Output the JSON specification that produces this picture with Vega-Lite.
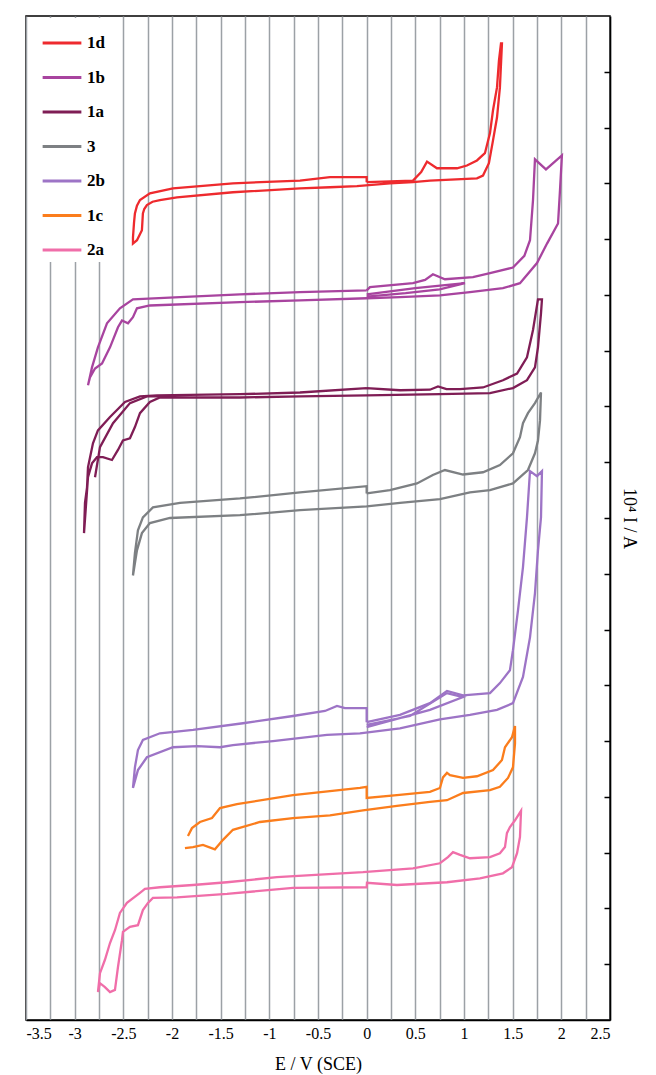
{
"$schema": "https://vega.github.io/schema/vega-lite/v6.json",
"width": 584, "height": 1004,
"padding": {"left": 26, "top": 16, "right": 2, "bottom": 2},
"autosize": {"type": "pad"},
"background": "white",
"config": {"view": {"stroke": "black", "strokeWidth": 1.5}, "font": "Liberation Serif",
  "axis": {"labelFont": "Liberation Serif", "titleFont": "Liberation Serif"},
  "legend": {"labelFont": "Liberation Serif"}},
"data": {"values": [
{"s":"1d","p":"a","x":0.0,"y":15.02},{"s":"1d","p":"a","x":0.476,"y":15.05},{"s":"1d","p":"a","x":0.56,"y":15.2},{"s":"1d","p":"a","x":0.62,"y":15.39},{"s":"1d","p":"a","x":0.722,"y":15.27},{"s":"1d","p":"a","x":0.928,"y":15.27},{"s":"1d","p":"a","x":1.03,"y":15.32},{"s":"1d","p":"a","x":1.133,"y":15.41},{"s":"1d","p":"a","x":1.215,"y":15.54},{"s":"1d","p":"a","x":1.267,"y":15.9},{"s":"1d","p":"a","x":1.298,"y":16.31},{"s":"1d","p":"a","x":1.339,"y":16.72},{"s":"1d","p":"a","x":1.359,"y":17.2},{"s":"1d","p":"a","x":1.38,"y":17.51},{"s":"1d","p":"a","x":1.39,"y":17.51},{"s":"1d","p":"a","x":1.369,"y":16.72},{"s":"1d","p":"a","x":1.339,"y":16.18},{"s":"1d","p":"a","x":1.298,"y":15.77},{"s":"1d","p":"a","x":1.256,"y":15.36},{"s":"1d","p":"a","x":1.195,"y":15.14},{"s":"1d","p":"a","x":1.133,"y":15.09},{"s":"1d","p":"a","x":0.65,"y":15.05},{"s":"1d","p":"a","x":0.476,"y":15.02},{"s":"1d","p":"a","x":0.239,"y":15.0},{"s":"1d","p":"a","x":-0.1,"y":14.95},{"s":"1d","p":"a","x":-0.377,"y":14.93},{"s":"1d","p":"a","x":-0.685,"y":14.91},{"s":"1d","p":"a","x":-1.374,"y":14.84},{"s":"1d","p":"a","x":-1.949,"y":14.75},{"s":"1d","p":"a","x":-2.124,"y":14.7},{"s":"1d","p":"a","x":-2.2,"y":14.67},{"s":"1d","p":"a","x":-2.258,"y":14.61},{"s":"1d","p":"a","x":-2.285,"y":14.54},{"s":"1d","p":"a","x":-2.299,"y":14.46},{"s":"1d","p":"a","x":-2.309,"y":14.16},{"s":"1d","p":"a","x":-2.36,"y":13.98},{"s":"1d","p":"a","x":-2.401,"y":13.92},{"s":"1d","p":"a","x":-2.401,"y":14.03},{"s":"1d","p":"a","x":-2.39,"y":14.3},{"s":"1d","p":"a","x":-2.381,"y":14.46},{"s":"1d","p":"a","x":-2.36,"y":14.6},{"s":"1d","p":"a","x":-2.329,"y":14.7},{"s":"1d","p":"a","x":-2.227,"y":14.82},{"s":"1d","p":"a","x":-1.99,"y":14.91},{"s":"1d","p":"a","x":-1.374,"y":15.0},{"s":"1d","p":"a","x":-0.685,"y":15.05},{"s":"1d","p":"a","x":-0.377,"y":15.11},{"s":"1d","p":"a","x":0.0,"y":15.11},{"s":"1d","p":"a","x":0.0,"y":15.02},

{"s":"1b","p":"a","x":0.0,"y":13.08},{"s":"1b","p":"a","x":0.034,"y":13.14},{"s":"1b","p":"a","x":0.476,"y":13.21},{"s":"1b","p":"a","x":0.6,"y":13.27},{"s":"1b","p":"a","x":0.681,"y":13.37},{"s":"1b","p":"a","x":0.804,"y":13.28},{"s":"1b","p":"a","x":1.092,"y":13.32},{"s":"1b","p":"a","x":1.267,"y":13.39},{"s":"1b","p":"a","x":1.503,"y":13.49},{"s":"1b","p":"a","x":1.62,"y":13.7},{"s":"1b","p":"a","x":1.678,"y":13.98},{"s":"1b","p":"a","x":1.709,"y":14.7},{"s":"1b","p":"a","x":1.729,"y":15.43},{"s":"1b","p":"a","x":1.842,"y":15.25},{"s":"1b","p":"a","x":2.006,"y":15.5},{"s":"1b","p":"a","x":1.986,"y":14.87},{"s":"1b","p":"a","x":1.966,"y":14.28},{"s":"1b","p":"a","x":1.853,"y":13.92},{"s":"1b","p":"a","x":1.75,"y":13.57},{"s":"1b","p":"a","x":1.575,"y":13.21},{"s":"1b","p":"a","x":1.4,"y":13.12},{"s":"1b","p":"a","x":1.061,"y":13.05},{"s":"1b","p":"a","x":0.753,"y":12.99},{"s":"1b","p":"a","x":0.342,"y":12.96},{"s":"1b","p":"a","x":0.0,"y":12.94},{"s":"1b","p":"a","x":-0.685,"y":12.9},{"s":"1b","p":"a","x":-1.302,"y":12.87},{"s":"1b","p":"a","x":-2.227,"y":12.81},{"s":"1b","p":"a","x":-2.36,"y":12.76},{"s":"1b","p":"a","x":-2.401,"y":12.6},{"s":"1b","p":"a","x":-2.452,"y":12.49},{"s":"1b","p":"a","x":-2.514,"y":12.54},{"s":"1b","p":"a","x":-2.555,"y":12.42},{"s":"1b","p":"a","x":-2.637,"y":12.06},{"s":"1b","p":"a","x":-2.719,"y":11.77},{"s":"1b","p":"a","x":-2.791,"y":11.68},{"s":"1b","p":"a","x":-2.843,"y":11.52},{"s":"1b","p":"a","x":-2.863,"y":11.38},{"s":"1b","p":"a","x":-2.822,"y":11.7},{"s":"1b","p":"a","x":-2.761,"y":12.06},{"s":"1b","p":"a","x":-2.668,"y":12.49},{"s":"1b","p":"a","x":-2.535,"y":12.76},{"s":"1b","p":"a","x":-2.401,"y":12.92},{"s":"1b","p":"a","x":-1.918,"y":12.96},{"s":"1b","p":"a","x":-1.302,"y":13.01},{"s":"1b","p":"a","x":-0.685,"y":13.05},{"s":"1b","p":"a","x":0.0,"y":13.08},
{"s":"1b","p":"b","x":0.0,"y":13.01},{"s":"1b","p":"b","x":0.5,"y":13.12},{"s":"1b","p":"b","x":1.01,"y":13.21},{"s":"1b","p":"b","x":0.75,"y":13.1},{"s":"1b","p":"b","x":0.4,"y":13.03},{"s":"1b","p":"b","x":0.0,"y":12.97},

{"s":"1a","p":"a","x":0.0,"y":11.33},{"s":"1a","p":"a","x":0.342,"y":11.29},{"s":"1a","p":"a","x":0.65,"y":11.3},{"s":"1a","p":"a","x":0.733,"y":11.36},{"s":"1a","p":"a","x":0.82,"y":11.31},{"s":"1a","p":"a","x":0.959,"y":11.31},{"s":"1a","p":"a","x":1.195,"y":11.34},{"s":"1a","p":"a","x":1.4,"y":11.47},{"s":"1a","p":"a","x":1.545,"y":11.59},{"s":"1a","p":"a","x":1.647,"y":11.88},{"s":"1a","p":"a","x":1.709,"y":12.37},{"s":"1a","p":"a","x":1.76,"y":12.92},{"s":"1a","p":"a","x":1.801,"y":12.92},{"s":"1a","p":"a","x":1.791,"y":12.67},{"s":"1a","p":"a","x":1.76,"y":12.06},{"s":"1a","p":"a","x":1.729,"y":11.7},{"s":"1a","p":"a","x":1.647,"y":11.47},{"s":"1a","p":"a","x":1.503,"y":11.33},{"s":"1a","p":"a","x":1.267,"y":11.24},{"s":"1a","p":"a","x":0.753,"y":11.22},{"s":"1a","p":"a","x":0.0,"y":11.2},{"s":"1a","p":"a","x":-0.685,"y":11.18},{"s":"1a","p":"a","x":-1.302,"y":11.16},{"s":"1a","p":"a","x":-2.124,"y":11.16},{"s":"1a","p":"a","x":-2.227,"y":11.08},{"s":"1a","p":"a","x":-2.329,"y":10.88},{"s":"1a","p":"a","x":-2.381,"y":10.63},{"s":"1a","p":"a","x":-2.432,"y":10.43},{"s":"1a","p":"a","x":-2.504,"y":10.39},{"s":"1a","p":"a","x":-2.555,"y":10.22},{"s":"1a","p":"a","x":-2.617,"y":10.04},{"s":"1a","p":"a","x":-2.709,"y":10.09},{"s":"1a","p":"a","x":-2.771,"y":10.09},{"s":"1a","p":"a","x":-2.822,"y":9.98},{"s":"1a","p":"a","x":-2.863,"y":9.73},{"s":"1a","p":"a","x":-2.904,"y":8.73},{"s":"1a","p":"a","x":-2.894,"y":9.27},{"s":"1a","p":"a","x":-2.873,"y":9.55},{"s":"1a","p":"a","x":-2.863,"y":9.91},{"s":"1a","p":"a","x":-2.812,"y":10.34},{"s":"1a","p":"a","x":-2.761,"y":10.57},{"s":"1a","p":"a","x":-2.637,"y":10.81},{"s":"1a","p":"a","x":-2.483,"y":11.08},{"s":"1a","p":"a","x":-2.329,"y":11.18},{"s":"1a","p":"a","x":-2.155,"y":11.2},{"s":"1a","p":"a","x":-1.302,"y":11.22},{"s":"1a","p":"a","x":-0.685,"y":11.25},{"s":"1a","p":"a","x":0.0,"y":11.33},
{"s":"1a","p":"b","x":-2.791,"y":9.73},{"s":"1a","p":"b","x":-2.74,"y":10.27},{"s":"1a","p":"b","x":-2.606,"y":10.7},{"s":"1a","p":"b","x":-2.432,"y":11.06},{"s":"1a","p":"b","x":-2.258,"y":11.18},{"s":"1a","p":"b","x":-2.124,"y":11.18},

{"s":"3","p":"a","x":0.0,"y":9.44},{"s":"3","p":"a","x":0.239,"y":9.5},{"s":"3","p":"a","x":0.517,"y":9.62},{"s":"3","p":"a","x":0.68,"y":9.77},{"s":"3","p":"a","x":0.804,"y":9.86},{"s":"3","p":"a","x":0.99,"y":9.78},{"s":"3","p":"a","x":1.195,"y":9.82},{"s":"3","p":"a","x":1.369,"y":9.95},{"s":"3","p":"a","x":1.503,"y":10.16},{"s":"3","p":"a","x":1.575,"y":10.45},{"s":"3","p":"a","x":1.606,"y":10.7},{"s":"3","p":"a","x":1.657,"y":10.88},{"s":"3","p":"a","x":1.729,"y":11.06},{"s":"3","p":"a","x":1.791,"y":11.25},{"s":"3","p":"a","x":1.781,"y":10.75},{"s":"3","p":"a","x":1.76,"y":10.39},{"s":"3","p":"a","x":1.729,"y":10.16},{"s":"3","p":"a","x":1.657,"y":9.86},{"s":"3","p":"a","x":1.503,"y":9.62},{"s":"3","p":"a","x":1.267,"y":9.5},{"s":"3","p":"a","x":1.061,"y":9.46},{"s":"3","p":"a","x":0.753,"y":9.34},{"s":"3","p":"a","x":0.342,"y":9.27},{"s":"3","p":"a","x":0.0,"y":9.21},{"s":"3","p":"a","x":-0.685,"y":9.14},{"s":"3","p":"a","x":-1.302,"y":9.05},{"s":"3","p":"a","x":-2.021,"y":9.0},{"s":"3","p":"a","x":-2.227,"y":8.91},{"s":"3","p":"a","x":-2.309,"y":8.73},{"s":"3","p":"a","x":-2.36,"y":8.42},{"s":"3","p":"a","x":-2.401,"y":7.97},{"s":"3","p":"a","x":-2.381,"y":8.37},{"s":"3","p":"a","x":-2.35,"y":8.78},{"s":"3","p":"a","x":-2.299,"y":9.01},{"s":"3","p":"a","x":-2.196,"y":9.19},{"s":"3","p":"a","x":-1.918,"y":9.27},{"s":"3","p":"a","x":-1.302,"y":9.35},{"s":"3","p":"a","x":-0.685,"y":9.46},{"s":"3","p":"a","x":0.0,"y":9.57},{"s":"3","p":"a","x":0.0,"y":9.44},

{"s":"2b","p":"a","x":0.0,"y":5.34},{"s":"2b","p":"a","x":0.342,"y":5.47},{"s":"2b","p":"a","x":0.65,"y":5.68},{"s":"2b","p":"a","x":0.825,"y":5.9},{"s":"2b","p":"a","x":0.99,"y":5.82},{"s":"2b","p":"a","x":1.267,"y":5.86},{"s":"2b","p":"a","x":1.369,"y":6.04},{"s":"2b","p":"a","x":1.472,"y":6.27},{"s":"2b","p":"a","x":1.503,"y":6.63},{"s":"2b","p":"a","x":1.555,"y":7.35},{"s":"2b","p":"a","x":1.606,"y":8.12},{"s":"2b","p":"a","x":1.647,"y":9.01},{"s":"2b","p":"a","x":1.678,"y":9.84},{"s":"2b","p":"a","x":1.75,"y":9.75},{"s":"2b","p":"a","x":1.801,"y":9.84},{"s":"2b","p":"a","x":1.791,"y":9.01},{"s":"2b","p":"a","x":1.76,"y":8.42},{"s":"2b","p":"a","x":1.729,"y":7.65},{"s":"2b","p":"a","x":1.678,"y":6.86},{"s":"2b","p":"a","x":1.606,"y":6.15},{"s":"2b","p":"a","x":1.503,"y":5.68},{"s":"2b","p":"a","x":1.339,"y":5.56},{"s":"2b","p":"a","x":1.061,"y":5.47},{"s":"2b","p":"a","x":0.753,"y":5.39},{"s":"2b","p":"a","x":0.342,"y":5.23},{"s":"2b","p":"a","x":-0.069,"y":5.14},{"s":"2b","p":"a","x":-0.408,"y":5.11},{"s":"2b","p":"a","x":-0.963,"y":5.0},{"s":"2b","p":"a","x":-1.374,"y":4.93},{"s":"2b","p":"a","x":-1.507,"y":4.89},{"s":"2b","p":"a","x":-1.743,"y":4.91},{"s":"2b","p":"a","x":-1.99,"y":4.89},{"s":"2b","p":"a","x":-2.258,"y":4.71},{"s":"2b","p":"a","x":-2.35,"y":4.48},{"s":"2b","p":"a","x":-2.401,"y":4.16},{"s":"2b","p":"a","x":-2.381,"y":4.53},{"s":"2b","p":"a","x":-2.35,"y":4.84},{"s":"2b","p":"a","x":-2.299,"y":5.02},{"s":"2b","p":"a","x":-2.124,"y":5.14},{"s":"2b","p":"a","x":-1.784,"y":5.2},{"s":"2b","p":"a","x":-1.271,"y":5.32},{"s":"2b","p":"a","x":-0.757,"y":5.45},{"s":"2b","p":"a","x":-0.428,"y":5.54},{"s":"2b","p":"a","x":-0.305,"y":5.63},{"s":"2b","p":"a","x":-0.223,"y":5.59},{"s":"2b","p":"a","x":0.0,"y":5.59},{"s":"2b","p":"a","x":0.0,"y":5.34},
{"s":"2b","p":"b","x":0.0,"y":5.29},{"s":"2b","p":"b","x":0.445,"y":5.45},{"s":"2b","p":"b","x":0.825,"y":5.86},{"s":"2b","p":"b","x":0.99,"y":5.79},{"s":"2b","p":"b","x":0.65,"y":5.56},{"s":"2b","p":"b","x":0.0,"y":5.25},

{"s":"1c","p":"a","x":-1.836,"y":3.3},{"s":"1c","p":"a","x":-1.795,"y":3.44},{"s":"1c","p":"a","x":-1.713,"y":3.55},{"s":"1c","p":"a","x":-1.589,"y":3.62},{"s":"1c","p":"a","x":-1.507,"y":3.8},{"s":"1c","p":"a","x":-1.333,"y":3.87},{"s":"1c","p":"a","x":-0.757,"y":4.03},{"s":"1c","p":"a","x":-0.069,"y":4.16},{"s":"1c","p":"a","x":0.0,"y":4.18},{"s":"1c","p":"a","x":0.0,"y":3.98},{"s":"1c","p":"a","x":0.311,"y":4.03},{"s":"1c","p":"a","x":0.65,"y":4.09},{"s":"1c","p":"a","x":0.753,"y":4.16},{"s":"1c","p":"a","x":0.784,"y":4.35},{"s":"1c","p":"a","x":0.825,"y":4.43},{"s":"1c","p":"a","x":0.856,"y":4.39},{"s":"1c","p":"a","x":0.99,"y":4.34},{"s":"1c","p":"a","x":1.133,"y":4.37},{"s":"1c","p":"a","x":1.298,"y":4.48},{"s":"1c","p":"a","x":1.39,"y":4.66},{"s":"1c","p":"a","x":1.421,"y":4.89},{"s":"1c","p":"a","x":1.493,"y":5.07},{"s":"1c","p":"a","x":1.524,"y":5.27},{"s":"1c","p":"a","x":1.524,"y":4.96},{"s":"1c","p":"a","x":1.503,"y":4.53},{"s":"1c","p":"a","x":1.452,"y":4.34},{"s":"1c","p":"a","x":1.369,"y":4.18},{"s":"1c","p":"a","x":1.267,"y":4.12},{"s":"1c","p":"a","x":0.99,"y":4.07},{"s":"1c","p":"a","x":0.825,"y":3.94},{"s":"1c","p":"a","x":0.65,"y":3.91},{"s":"1c","p":"a","x":0.311,"y":3.84},{"s":"1c","p":"a","x":-0.038,"y":3.76},{"s":"1c","p":"a","x":-0.377,"y":3.67},{"s":"1c","p":"a","x":-0.757,"y":3.62},{"s":"1c","p":"a","x":-1.097,"y":3.55},{"s":"1c","p":"a","x":-1.374,"y":3.41},{"s":"1c","p":"a","x":-1.476,"y":3.23},{"s":"1c","p":"a","x":-1.559,"y":3.06},{"s":"1c","p":"a","x":-1.682,"y":3.14},{"s":"1c","p":"a","x":-1.784,"y":3.1},{"s":"1c","p":"a","x":-1.867,"y":3.08},

{"s":"2a","p":"a","x":-0.038,"y":2.65},{"s":"2a","p":"a","x":0.476,"y":2.72},{"s":"2a","p":"a","x":0.753,"y":2.81},{"s":"2a","p":"a","x":0.835,"y":2.92},{"s":"2a","p":"a","x":0.887,"y":3.01},{"s":"2a","p":"a","x":0.959,"y":2.96},{"s":"2a","p":"a","x":1.061,"y":2.9},{"s":"2a","p":"a","x":1.267,"y":2.92},{"s":"2a","p":"a","x":1.369,"y":2.99},{"s":"2a","p":"a","x":1.421,"y":3.1},{"s":"2a","p":"a","x":1.441,"y":3.35},{"s":"2a","p":"a","x":1.472,"y":3.46},{"s":"2a","p":"a","x":1.524,"y":3.58},{"s":"2a","p":"a","x":1.586,"y":3.75},{"s":"2a","p":"a","x":1.575,"y":3.28},{"s":"2a","p":"a","x":1.545,"y":2.99},{"s":"2a","p":"a","x":1.493,"y":2.74},{"s":"2a","p":"a","x":1.4,"y":2.63},{"s":"2a","p":"a","x":1.164,"y":2.54},{"s":"2a","p":"a","x":0.825,"y":2.47},{"s":"2a","p":"a","x":0.311,"y":2.42},{"s":"2a","p":"a","x":0.003,"y":2.46},{"s":"2a","p":"a","x":0.0,"y":2.38},{"s":"2a","p":"a","x":-0.757,"y":2.37},{"s":"2a","p":"a","x":-1.435,"y":2.26},{"s":"2a","p":"a","x":-1.949,"y":2.2},{"s":"2a","p":"a","x":-2.196,"y":2.19},{"s":"2a","p":"a","x":-2.247,"y":2.1},{"s":"2a","p":"a","x":-2.299,"y":1.97},{"s":"2a","p":"a","x":-2.35,"y":1.7},{"s":"2a","p":"a","x":-2.432,"y":1.67},{"s":"2a","p":"a","x":-2.504,"y":1.58},{"s":"2a","p":"a","x":-2.514,"y":1.43},{"s":"2a","p":"a","x":-2.555,"y":0.95},{"s":"2a","p":"a","x":-2.586,"y":0.54},{"s":"2a","p":"a","x":-2.637,"y":0.5},{"s":"2a","p":"a","x":-2.689,"y":0.59},{"s":"2a","p":"a","x":-2.74,"y":0.66},{"s":"2a","p":"a","x":-2.761,"y":0.5},{"s":"2a","p":"a","x":-2.74,"y":0.84},{"s":"2a","p":"a","x":-2.689,"y":1.08},{"s":"2a","p":"a","x":-2.637,"y":1.38},{"s":"2a","p":"a","x":-2.586,"y":1.61},{"s":"2a","p":"a","x":-2.535,"y":1.92},{"s":"2a","p":"a","x":-2.463,"y":2.1},{"s":"2a","p":"a","x":-2.329,"y":2.28},{"s":"2a","p":"a","x":-2.278,"y":2.35},{"s":"2a","p":"a","x":-2.124,"y":2.38},{"s":"2a","p":"a","x":-1.784,"y":2.42},{"s":"2a","p":"a","x":-1.435,"y":2.47},{"s":"2a","p":"a","x":-0.922,"y":2.56},{"s":"2a","p":"a","x":-0.038,"y":2.65}
]},
"mark": {"type": "line", "strokeWidth": 2.3, "clip": true},
"encoding": {
  "x": {"field": "x", "type": "quantitative",
    "scale": {"domain": [-3.5, 2.5], "nice": false, "zero": false},
    "axis": {"values": [-3.5,-3.25,-3,-2.75,-2.5,-2.25,-2,-1.75,-1.5,-1.25,-1,-0.75,-0.5,-0.25,0,0.25,0.5,0.75,1,1.25,1.5,1.75,2,2.25,2.5],
      "labelExpr": "abs(datum.value % 0.5) < 0.001 ? toString(datum.value) : ''",
      "title": "E / V (SCE)", "grid": true, "gridColor": "#9ca1a6", "gridWidth": 1.5,
      "ticks": false, "domainColor": "black", "domainWidth": 1.5,
      "labelFont": "Liberation Serif", "labelFontSize": 16, "labelColor": "black", "labelPadding": 5,
      "titleFont": "Liberation Serif", "titleFontSize": 18, "titleFontWeight": "normal", "titleColor": "black", "titlePadding": 14}},
  "y": {"field": "y", "type": "quantitative",
    "scale": {"domain": [0, 18], "nice": false, "zero": false},
    "axis": {"orient": "right", "values": [1,2,3,4,5,6,7,8,9,10,11,12,13,14,15,16,17],
      "labels": false, "grid": false, "tickSize": -6, "tickColor": "black", "tickWidth": 1.5,
      "domainColor": "black", "domainWidth": 1.5,
      "title": "10⁴ I / A", "titleFont": "Liberation Serif", "titleFontSize": 18, "titleFontWeight": "normal", "titleColor": "black", "titlePadding": 9}},
  "color": {"field": "s", "type": "nominal",
    "scale": {"domain": ["1d","1b","1a","3","2b","1c","2a"],
      "range": ["#ee2a2e","#a8449f","#7f1d55","#7d8083","#9d74c6","#fb7d1c","#f06ea9"]},
    "legend": {"orient": "none", "legendX": 11, "legendY": 2, "padding": 4, "fillColor": "white", "title": null,
      "symbolType": "stroke", "symbolStrokeWidth": 3, "symbolSize": 1500,
      "labelFont": "Liberation Serif", "labelFontSize": 17, "labelFontWeight": "bold", "labelColor": "black",
      "rowPadding": 5.5, "labelOffset": 4}},
  "detail": {"field": "p"},
  "order": {"value": null}
}
}
